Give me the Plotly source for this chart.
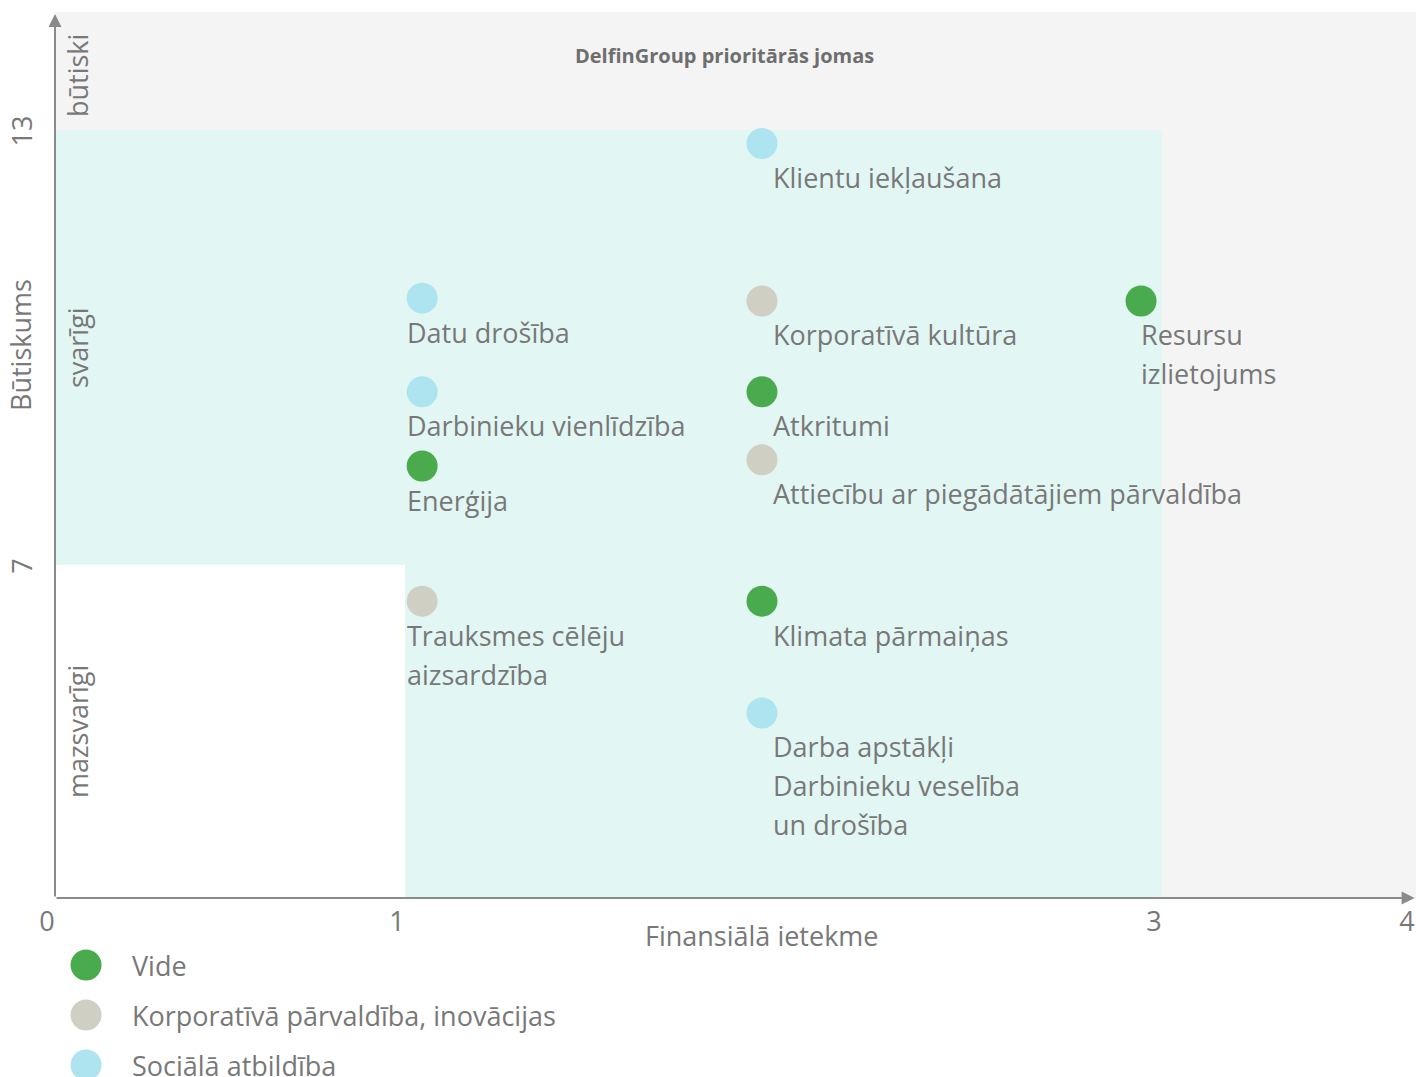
import plotly.graph_objects as go

# ---------------- data ----------------
categories = ["Vide", "Korporatīvā pārvaldība, inovācijas", "Sociālā atbildība"]
category_colors = ["#4aab4e", "#cfcfc3", "#ade4ef"]

topics = [
    "Klientu iekļaušana",
    "Datu drošība",
    "Korporatīvā kultūra",
    "Resursu<br>izlietojums",
    "Darbinieku vienlīdzība",
    "Atkritumi",
    "Enerģija",
    "Attiecību ar piegādātājiem pārvaldība",
    "Trauksmes cēlēju<br>aizsardzība",
    "Klimata pārmaiņas",
    "Darba apstākļi<br>Darbinieku veselība<br>un drošība",
]
topic_category = [2, 2, 1, 0, 2, 0, 0, 1, 1, 0, 2]
# financial impact (x) and importance (y), in the chart's display scale
impact = [2.02, 1.049, 2.02, 3.103, 1.049, 2.02, 1.049, 2.02, 1.049, 2.02, 2.02]
importance = [15.86, 12.61, 12.55, 12.55, 10.64, 10.64, 9.08, 9.21, 6.24, 6.24, 3.89]

# axis tick positions (display scale) and labels
x_tickvals = [0, 1, 3.163, 3.886]
x_ticktext = ["0", "1", "3", "4"]
y_tickvals = [7, 16.144]
y_ticktext = ["7", "13"]
x_max = 3.8886
y_max = 18.625

zone_labels = ["būtiski", "svarīgi", "mazsvarīgi"]

# ---------------- styles ----------------
FONT = "Open Sans"
TXT = "#787878"
AXIS = "#8a8a8a"
BG_GRAY = "#f4f4f4"
BG_MINT = "#e2f7f3"
MARKER_SIZE = 31
LABEL_FS = 27

fig = go.Figure()

for ci, cat in enumerate(categories):
    xs = [impact[i] for i in range(len(topics)) if topic_category[i] == ci]
    ys = [importance[i] for i in range(len(topics)) if topic_category[i] == ci]
    fig.add_trace(go.Scatter(
        x=xs, y=ys, mode="markers", name=cat,
        marker=dict(size=MARKER_SIZE, color=category_colors[ci], line=dict(width=0)),
        xaxis="x", yaxis="y", showlegend=False, hoverinfo="skip",
    ))

# manual legend (large markers)
fig.add_trace(go.Scatter(
    x=[0] * len(categories), y=list(range(len(categories))), mode="markers",
    marker=dict(size=MARKER_SIZE, color=category_colors, line=dict(width=0)),
    xaxis="x2", yaxis="y2", showlegend=False, hoverinfo="skip",
))

annotations = []
for ci, cat in enumerate(categories):
    annotations.append(dict(
        x=0, y=ci, xref="x2", yref="y2", text=cat, showarrow=False,
        xanchor="left", yanchor="middle", xshift=44,
        font=dict(family=FONT, size=LABEL_FS, color=TXT),
    ))

# point labels (one annotation per line for 1.5 line spacing)
for i, t in enumerate(topics):
    x = impact[i]
    dx = -17 if x < 1.5 else (9 if x < 2.5 else -2)
    for li, line in enumerate(t.split("<br>")):
        annotations.append(dict(
            x=x, y=importance[i], xref="x", yref="y", text=line, showarrow=False,
            xanchor="left", yanchor="middle", xshift=dx, yshift=-(34 + 39 * li),
            font=dict(family=FONT, size=LABEL_FS, color=TXT),
        ))

# axis lines with arrows
annotations.append(dict(x=0, y=y_max - 0.04, ax=0, ay=0, xref="x", yref="y", axref="x", ayref="y",
                        text="", showarrow=True, arrowhead=2, arrowsize=1.3, arrowwidth=2,
                        arrowcolor=AXIS, standoff=0, startstandoff=0))
annotations.append(dict(x=x_max - 0.004, y=0, ax=0, ay=0, xref="x", yref="y", axref="x", ayref="y",
                        text="", showarrow=True, arrowhead=2, arrowsize=1.3, arrowwidth=2,
                        arrowcolor=AXIS, standoff=0, startstandoff=0))

# titles
annotations.append(dict(x=0.4916, y=0.9587, xref="paper", yref="paper",
                        text="<b>DelfinGroup prioritārās jomas</b>", showarrow=False,
                        xanchor="center", yanchor="middle",
                        font=dict(family=FONT, size=20, color="#6e6e6e")))
annotations.append(dict(x=0.5195, y=0.1324, xref="paper", yref="paper",
                        text="Finansiālā ietekme", showarrow=False,
                        xanchor="center", yanchor="middle",
                        font=dict(family=FONT, size=LABEL_FS, color=TXT)))
annotations.append(dict(x=-0.0257, y=0.6873, xref="paper", yref="paper",
                        text="Būtiskums", showarrow=False, textangle=-90,
                        xanchor="center", yanchor="middle",
                        font=dict(family=FONT, size=LABEL_FS, color=TXT)))
for lbl, py in zip(zone_labels, [0.9399, 0.6845, 0.3239]):
    annotations.append(dict(x=0.0162, y=py, xref="paper", yref="paper",
                            text=lbl, showarrow=False, textangle=-90,
                            xanchor="center", yanchor="middle",
                            font=dict(family=FONT, size=LABEL_FS, color=TXT)))

shapes = [
    dict(type="rect", xref="x domain", yref="y domain", x0=0, x1=1, y0=0, y1=1,
         fillcolor=BG_GRAY, line=dict(width=0), layer="below"),
    dict(type="rect", xref="x", yref="y", x0=x_tickvals[0], x1=x_tickvals[2],
         y0=0, y1=y_tickvals[1], fillcolor=BG_MINT, line=dict(width=0), layer="below"),
    dict(type="rect", xref="x", yref="y", x0=x_tickvals[0], x1=x_tickvals[1],
         y0=0, y1=y_tickvals[0], fillcolor="#ffffff", line=dict(width=0), layer="below"),
]

fig.update_layout(
    width=1416, height=1077,
    margin=dict(l=55, r=0, t=12, b=0),
    paper_bgcolor="#ffffff", plot_bgcolor="#ffffff",
    showlegend=False,
    xaxis=dict(domain=[0, 1], anchor="y", range=[0, x_max], tickvals=x_tickvals, ticktext=x_ticktext,
               showgrid=False, zeroline=False, showline=False, ticks="",
               tickfont=dict(family=FONT, size=LABEL_FS, color=TXT), ticklabelshift=-8,
               ticklabelstandoff=5),
    yaxis=dict(domain=[0.16808, 1], anchor="x", range=[0, y_max], tickvals=y_tickvals, ticktext=y_ticktext,
               showgrid=False, zeroline=False, showline=False, ticks="", tickangle=-90,
               tickfont=dict(family=FONT, size=LABEL_FS, color=TXT), ticklabelstandoff=17,
               ticklabelshift=5),
    xaxis2=dict(domain=[0, 0.4], anchor="y2", range=[-0.57, 9.43], visible=False),
    yaxis2=dict(domain=[0, 0.16], anchor="x2", range=[2.24, -1.168], visible=False),
    shapes=shapes,
    annotations=annotations,
)

fig.write_html("out.html", config={"displayModeBar": False},
               post_script="document.body.style.margin='0';document.body.style.overflow='hidden';")
